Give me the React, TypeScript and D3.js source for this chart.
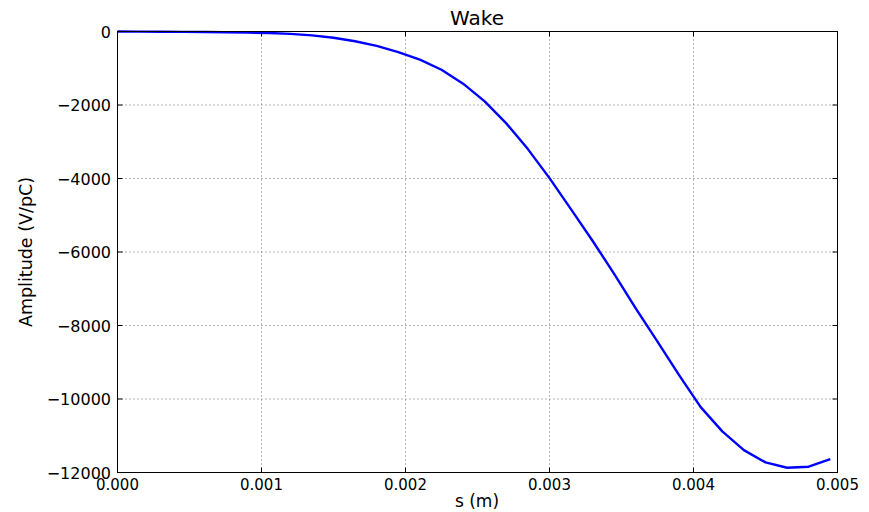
import React from "react";
import * as d3 from "d3";

// Wake potential sampled along s (m)
const sValues: number[] = [
  0, 0.00015, 0.0003, 0.00045, 0.0006, 0.00075, 0.0009, 0.00105, 0.0012,
  0.00135, 0.0015, 0.00165, 0.0018, 0.00195, 0.0021, 0.00225, 0.0024,
  0.00255, 0.0027, 0.00285, 0.003, 0.00315, 0.0033, 0.00345, 0.0036,
  0.00375, 0.0039, 0.00405, 0.0042, 0.00435, 0.0045, 0.00465, 0.0048,
  0.00495,
];
const amplitude: number[] = [
  -2, -4, -6, -9, -13, -19, -28, -42, -65, -105, -170, -265, -390, -560,
  -765, -1040, -1420, -1900, -2500, -3200, -3990, -4840, -5700, -6600,
  -7540, -8440, -9350, -10220, -10880, -11390, -11725, -11870, -11842,
  -11635,
];

const xTicks: number[] = [0, 0.001, 0.002, 0.003, 0.004, 0.005];
const yTicks: number[] = [0, -2000, -4000, -6000, -8000, -10000, -12000];

const title = "Wake";
const xLabel = "s (m)";
const yLabel = "Amplitude (V/pC)";

const W = 869;
const H = 512;
const FONT = "'DejaVu Sans', sans-serif";

export default function App() {
  const left = 117.5;
  const right = 837.5;
  const top = 31.5;
  const bottom = 472.5;

  const x = d3.scaleLinear().domain([0, 0.005]).range([left, right]);
  const y = d3.scaleLinear().domain([-12000, 0]).range([bottom, top]);

  const line = d3
    .line<number>()
    .x((_, i) => x(sValues[i]))
    .y((d) => y(d));

  const fmtX = d3.format(".3f");
  const fmtY = (v: number) => (v < 0 ? "\u2212" + Math.abs(v) : String(v));
  const tickLen = 5;

  return (
    <svg
      width={W}
      height={H}
      style={{ position: "fixed", left: 0, top: 0, background: "#fff" }}
      fontFamily={FONT}
    >
      <rect x={0} y={0} width={W} height={H} fill="#fff" />
      {/* grid */}
      <g stroke="#666" strokeWidth={1} strokeDasharray="1,3">
        {xTicks.slice(1, -1).map((t) => (
          <line key={"gx" + t} x1={x(t)} x2={x(t)} y1={top} y2={bottom} />
        ))}
        {yTicks.slice(1, -1).map((t) => (
          <line key={"gy" + t} x1={left} x2={right} y1={y(t)} y2={y(t)} />
        ))}
      </g>
      {/* data line */}
      <path
        d={line(amplitude) || ""}
        fill="none"
        stroke="#0000ff"
        strokeWidth={2.4}
        strokeLinejoin="round"
      />
      {/* frame */}
      <rect
        x={left}
        y={top}
        width={right - left}
        height={bottom - top}
        fill="none"
        stroke="#000"
        strokeWidth={1}
      />
      {/* ticks */}
      <g stroke="#000" strokeWidth={1}>
        {xTicks.map((t) => (
          <g key={"tx" + t}>
            <line x1={x(t)} x2={x(t)} y1={bottom} y2={bottom - tickLen} />
            <line x1={x(t)} x2={x(t)} y1={top} y2={top + tickLen} />
          </g>
        ))}
        {yTicks.map((t) => (
          <g key={"ty" + t}>
            <line x1={left} x2={left + tickLen} y1={y(t)} y2={y(t)} />
            <line x1={right} x2={right - tickLen} y1={y(t)} y2={y(t)} />
          </g>
        ))}
      </g>
      {/* tick labels */}
      <g fontSize={15} fill="#000" textAnchor="middle">
        {xTicks.map((t) => (
          <text key={"lx" + t} x={x(t)} y={489.5}>
            {fmtX(t)}
          </text>
        ))}
      </g>
      <g fontSize={16} fill="#000" textAnchor="end">
        {yTicks.map((t) => (
          <text key={"ly" + t} x={111} y={y(t) + 6}>
            {fmtY(t)}
          </text>
        ))}
      </g>
      {/* labels */}
      <text x={477} y={25} fontSize={20} textAnchor="middle" fill="#000">
        {title}
      </text>
      <text x={477} y={507} fontSize={17} textAnchor="middle" fill="#000">
        {xLabel}
      </text>
      <text
        transform={`translate(32,${(top + bottom) / 2}) rotate(-90)`}
        fontSize={17.5}
        textAnchor="middle"
        fill="#000"
      >
        {yLabel}
      </text>
    </svg>
  );
}
